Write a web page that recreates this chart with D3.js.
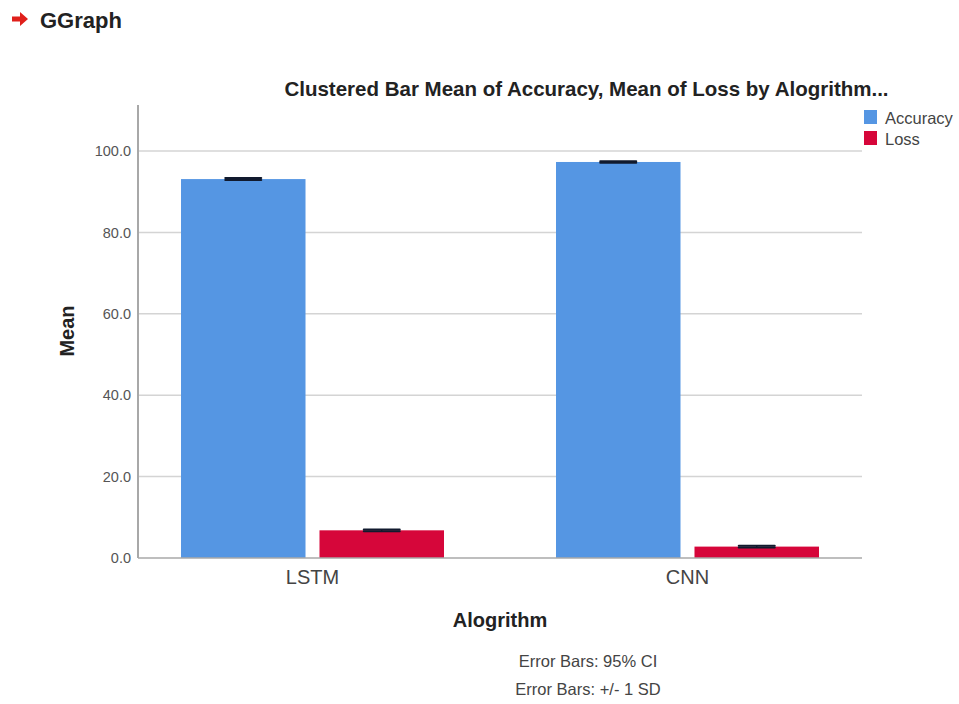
<!DOCTYPE html>
<html><head><meta charset="utf-8">
<script src="https://cdn.jsdelivr.net/npm/d3@7/dist/d3.min.js"></script>
<style>body{margin:0;background:#fff;} svg{display:block;font-family:"Liberation Sans",Arial,sans-serif;}</style>
</head><body>
<script>
const categories = ["LSTM", "CNN"];
const seriesNames = ["Accuracy", "Loss"];
const accuracy = [93.1, 97.3];
const loss = [6.8, 2.8];
const errAccuracy = [0.25, 0.2];
const errLoss = [0.2, 0.2];
const yTicks = [0, 20, 40, 60, 80, 100];
const colors = ["#5596e3", "#d6063a"];

const W = 959, H = 704;
const svg = d3.select("body").append("svg").attr("width", W).attr("height", H);

// header
svg.append("path").attr("d", "M12,16.5 L20,16.5 L20,12 L28,19 L20,26 L20,21.5 L12,21.5 Z").attr("fill", "#e0201b");
svg.append("text").attr("x", 40).attr("y", 28).attr("font-size", 22).attr("font-weight", "bold").attr("fill", "#222").text("GGraph");

const x0 = 138, x1 = 862, yTop = 105, yBase = 558;
const y = d3.scaleLinear().domain([0, 111.3]).range([yBase, yTop]);
const xb = d3.scaleBand().domain(categories).range([x0, x1]).paddingInner(0.2987).paddingOuter(0.1147);
const xs = d3.scaleBand().domain(seriesNames).range([0, xb.bandwidth()]).paddingInner(0.101).paddingOuter(0);

// gridlines
svg.append("g").selectAll("line").data(yTicks.filter(d => d > 0)).join("line")
  .attr("x1", x0).attr("x2", x1).attr("y1", d => y(d)).attr("y2", d => y(d))
  .attr("stroke", "#d4d4d4").attr("stroke-width", 1.5);

// y axis
const yAxis = d3.axisLeft(y).tickValues(yTicks).tickFormat(d3.format(".1f")).tickSize(0).tickPadding(7);
const gy = svg.append("g").attr("transform", `translate(${x0},0)`).call(yAxis);
gy.select(".domain").remove();
gy.selectAll("text").attr("font-size", 14.5).attr("fill", "#555").attr("font-family", "Liberation Sans, Arial, sans-serif");
svg.append("line").attr("x1", x0).attr("x2", x0).attr("y1", yTop).attr("y2", yBase).attr("stroke", "#a8a8a8").attr("stroke-width", 2);

const data = categories.map((c, i) => ({cat: c, vals: [
  {s: "Accuracy", v: accuracy[i], e: errAccuracy[i]},
  {s: "Loss", v: loss[i], e: errLoss[i]}]}));

const groups = svg.append("g").selectAll("g").data(data).join("g")
  .attr("transform", d => `translate(${xb(d.cat)},0)`);
groups.selectAll("rect").data(d => d.vals).join("rect")
  .attr("x", d => xs(d.s)).attr("width", xs.bandwidth())
  .attr("y", d => y(d.v)).attr("height", d => y(0) - y(d.v))
  .attr("fill", (d, i) => colors[i]);
// error bars
const capW = 36;
groups.selectAll("g.err").data(d => d.vals).join("g").attr("class", "err").each(function(d) {
  const g = d3.select(this);
  const cx = xs(d.s) + xs.bandwidth() / 2;
  g.append("line").attr("x1", cx).attr("x2", cx).attr("y1", y(d.v + d.e)).attr("y2", y(d.v - d.e)).attr("stroke", "#111a2e").attr("stroke-width", 1.5);
  [d.v + d.e, d.v - d.e].forEach(v => g.append("line").attr("x1", cx - capW / 2).attr("x2", cx + capW / 2)
    .attr("y1", y(v)).attr("y2", y(v)).attr("stroke", "#111a2e").attr("stroke-width", 2).attr("stroke-linecap", "round"));
});

// x axis baseline
svg.append("line").attr("x1", x0).attr("x2", x1).attr("y1", yBase).attr("y2", yBase).attr("stroke", "#a8a8a8").attr("stroke-width", 1.5);
const xAxis = d3.axisBottom(xb).tickSize(0).tickPadding(12);
const gx = svg.append("g").attr("transform", `translate(0,${yBase})`).call(xAxis);
gx.select(".domain").remove();
gx.selectAll("text").attr("font-size", 20).attr("fill", "#444").attr("font-family", "Liberation Sans, Arial, sans-serif");

// titles
svg.append("text").attr("x", 586.5).attr("y", 96).attr("text-anchor", "middle").attr("font-size", 20.5).attr("font-weight", "bold").attr("fill", "#222")
  .text("Clustered Bar Mean of Accuracy, Mean of Loss by Alogrithm...");
svg.append("text").attr("x", 500).attr("y", 627).attr("text-anchor", "middle").attr("font-size", 20).attr("font-weight", "bold").attr("fill", "#222").text("Alogrithm");
svg.append("text").attr("transform", "translate(74,331) rotate(-90)").attr("text-anchor", "middle").attr("font-size", 20).attr("font-weight", "bold").attr("fill", "#222").text("Mean");

// legend
const lg = svg.append("g");
seriesNames.forEach((s, i) => {
  lg.append("rect").attr("x", 864).attr("y", 110 + i * 21).attr("width", 13).attr("height", 14).attr("fill", colors[i]);
  lg.append("text").attr("x", 885).attr("y", 124 + i * 21).attr("font-size", 16.5).attr("fill", "#444").text(s);
});

// footnotes
svg.append("text").attr("x", 588).attr("y", 667).attr("text-anchor", "middle").attr("font-size", 16.5).attr("fill", "#444").text("Error Bars: 95% CI");
svg.append("text").attr("x", 588).attr("y", 695).attr("text-anchor", "middle").attr("font-size", 16.5).attr("fill", "#444").text("Error Bars: +/- 1 SD");
</script>
</body></html>
